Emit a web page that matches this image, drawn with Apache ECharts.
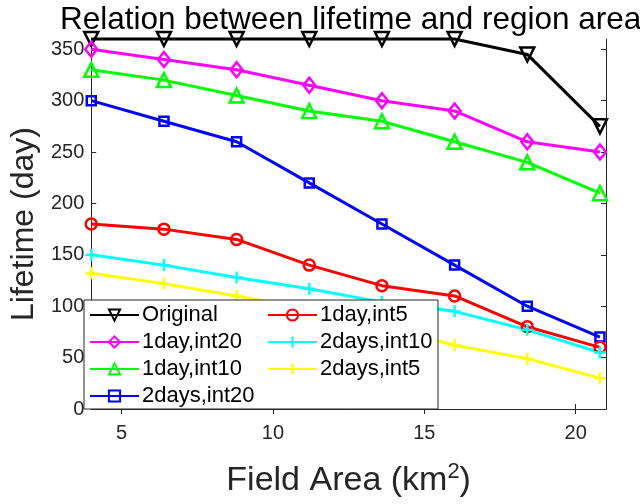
<!DOCTYPE html>
<html>
<head>
<meta charset="utf-8">
<script src="https://cdn.jsdelivr.net/npm/echarts@6/dist/echarts.min.js"></script>
<style>html,body{margin:0;padding:0;background:#fff;}#c{width:640px;height:504px;}</style>
</head>
<body>
<div id="c"></div>
<script>
const areas = [4, 6.4, 8.8, 11.2, 13.6, 16.0, 18.4, 20.8];
const original = [360, 360, 360, 360, 360, 360, 345, 275];
const day1int20 = [350, 340, 330, 315, 300, 290, 260, 250];
const day1int10 = [330, 320, 305, 290, 280, 260, 240, 210];
const days2int20 = [300, 280, 260, 220, 180, 140, 100, 70];
const day1int5 = [180, 175, 165, 140, 120, 110, 80, 60];
const days2int10 = [150, 140, 128, 117, 104, 95, 77, 55];
const days2int5 = [132, 122, 110, 97, 80, 62, 49, 30];
const xTicks = [5, 10, 15, 20];
const yTicks = [0, 50, 100, 150, 200, 250, 300, 350];

const FONT = '"Liberation Sans", Arial, sans-serif';
const AX = '#262626';
const PLUS = 'path://M4,0H6V4H10V6H6V10H4V6H0V4H4Z';

function mk(name, data, color, symbol, size, extra) {
  const hollow = symbol !== PLUS;
  return Object.assign({
    name: name,
    type: 'line',
    data: data.map((v, i) => [areas[i], v]),
    symbol: symbol,
    symbolSize: size,
    showAllSymbol: true,
    lineStyle: { color: color, width: 3 },
    itemStyle: hollow ? { color: 'none', borderColor: color, borderWidth: 2.5 } : { color: color, borderWidth: 0 },
    emphasis: { disabled: true },
    clip: false,
    z: 2
  }, extra || {});
}

const chart = echarts.init(document.getElementById('c'), null, { renderer: 'canvas' });
const grid = { left: 84, right: 34, top: 39, bottom: 95 };
chart.setOption({
  animation: false,
  backgroundColor: '#fff',
  title: {
    text: 'Relation between lifetime and region area',
    left: 55, top: -1,
    textStyle: { fontFamily: FONT, fontSize: 31.5, fontWeight: 'normal', color: '#000' }
  },
  grid: grid,
  xAxis: [{
    type: 'value', min: 4, max: 21,
    name: 'Field Area (km{sup|2})',
    nameLocation: 'middle', nameGap: 52,
    nameTextStyle: {
      fontFamily: FONT, fontSize: 34, color: AX,
      rich: { sup: { fontFamily: FONT, fontSize: 22, color: AX, verticalAlign: 'top', padding: [0, 0, 18, 0] } }
    },
    axisLine: { show: true, lineStyle: { color: AX, width: 1 } },
    axisTick: { show: true, inside: true, length: 5, customValues: xTicks, lineStyle: { color: AX } },
    axisLabel: { customValues: xTicks, fontFamily: FONT, fontSize: 20, color: AX, margin: 14 },
    splitLine: { show: false }
  }, {
    type: 'value', min: 4, max: 21, position: 'top',
    axisLine: { show: true, lineStyle: { color: AX, width: 1 } },
    axisTick: { show: true, inside: true, length: 5, customValues: xTicks, lineStyle: { color: AX } },
    axisLabel: { show: false },
    splitLine: { show: false }
  }],
  yAxis: [{
    type: 'value', min: 0, max: 360,
    name: 'Lifetime (day)',
    nameLocation: 'middle', nameGap: 48,
    nameTextStyle: { fontFamily: FONT, fontSize: 32, color: AX },
    axisLine: { show: true, lineStyle: { color: AX, width: 1 } },
    axisTick: { show: true, inside: true, length: 5, customValues: yTicks, lineStyle: { color: AX } },
    axisLabel: { customValues: yTicks, fontFamily: FONT, fontSize: 20, color: AX, margin: 7 },
    splitLine: { show: false }
  }, {
    type: 'value', min: 0, max: 360, position: 'right',
    axisLine: { show: true, lineStyle: { color: AX, width: 1 } },
    axisTick: { show: true, inside: true, length: 5, customValues: yTicks, lineStyle: { color: AX } },
    axisLabel: { show: false },
    splitLine: { show: false }
  }],
  graphic: [{
    type: 'rect', z: 10,
    shape: { x: 84, y: 300, width: 354, height: 109 },
    style: { fill: '#fff', stroke: AX, lineWidth: 1 }
  }],
  legend: [{
    z: 20, left: 89, top: 304, orient: 'vertical', padding: 0,
    itemWidth: 49, itemHeight: 14, itemGap: 5,
    data: ['Original', '1day,int20', '1day,int10', '2days,int20'],
    textStyle: { fontFamily: FONT, fontSize: 22, color: '#000', lineHeight: 22, padding: [0, 0, 0, -2] },
    selectedMode: false
  }, {
    z: 20, left: 267, top: 304, orient: 'vertical', padding: 0,
    itemWidth: 49, itemHeight: 14, itemGap: 5,
    data: ['1day,int5', '2days,int10', '2days,int5'],
    textStyle: { fontFamily: FONT, fontSize: 22, color: '#000', lineHeight: 22, padding: [0, 0, 0, -2] },
    selectedMode: false
  }],
  series: [
    mk('Original', original, '#000000', 'triangle', 14, { symbolRotate: 180 }),
    mk('1day,int20', day1int20, '#ff00ff', 'diamond', [12, 15]),
    mk('1day,int10', day1int10, '#00ff00', 'triangle', 14),
    mk('2days,int20', days2int20, '#0000ff', 'rect', 9),
    mk('1day,int5', day1int5, '#ff0000', 'circle', 11),
    mk('2days,int10', days2int10, '#00ffff', PLUS, 12),
    mk('2days,int5', days2int5, '#ffff00', PLUS, 12)
  ]
});
</script>
</body>
</html>
